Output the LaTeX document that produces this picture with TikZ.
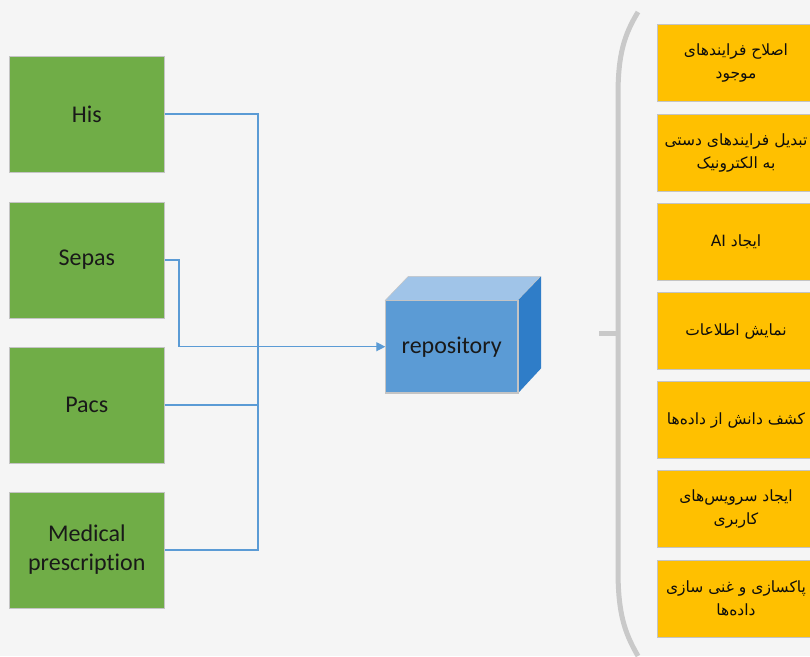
\documentclass[tikz,border=0pt]{standalone}
\usepackage{fontspec}
\setmainfont[Ligatures=NoCommon]{Carlito}
\newfontfamily\arabicfont[Script=Arabic]{DejaVu Sans}
\TeXXeTstate=1
\usetikzlibrary{arrows.meta}
\definecolor{bgc}{HTML}{F5F5F5}
\definecolor{greenc}{HTML}{70AD47}
\definecolor{orangec}{HTML}{FFC000}
\definecolor{bluec}{HTML}{5B9BD5}
\definecolor{bluetop}{HTML}{A0C4E8}
\definecolor{blueside}{HTML}{2F7DC8}
\definecolor{edgec}{HTML}{C4C4C4}
\definecolor{bracec}{HTML}{C9C9C9}
\tikzset{
  srcbox/.style={draw=edgec, line width=0.8pt, fill=greenc, minimum width=155pt, minimum height=116pt,
    inner sep=0pt, align=center, font=\fontsize{24}{29}\selectfont, text=black!90},
  goalbox/.style={draw=edgec, line width=0.8pt, fill=orangec, minimum width=158pt, minimum height=77pt,
    inner sep=0pt, align=center, font=\arabicfont\fontsize{15.5}{23}\selectfont, text=black!95},
  link/.style={draw=bluec, line width=1.2pt},
  bracestyle/.style={draw=bracec, line width=5pt}
}
\begin{document}
\begin{tikzpicture}[x=1pt,y=-1pt]
\useasboundingbox (0,0) rectangle (810,656);
\fill[bgc] (0,0) rectangle (810,656);

% source boxes
\node[srcbox] (his) at (86.8,114) {His};
\node[srcbox] (sepas) at (86.8,260) {\raisebox{-2pt}{Sepas}};
\node[srcbox] (pacs) at (86.8,405) {Pacs};
\node[srcbox] (med) at (86.8,550) {\raisebox{-3pt}{\begin{tabular}{@{}c@{}}Medical\\prescription\end{tabular}}};

% repository cube
\node[draw=edgec, line width=0.8pt, fill=bluec, minimum width=132pt, minimum height=92pt, inner sep=0pt,
  font=\fontsize{24}{29}\selectfont, text=black!90] (repo) at (451.7,346.7) {\raisebox{-2pt}{repository}};
\fill[bluetop, draw=edgec, line width=0.5pt] (repo.north west) -- ++(23,-24) -- ++(132,0) -- (repo.north east) -- cycle;
\fill[blueside] (repo.north east) -- ++(23,-24) -- ++(0,92) -- (repo.south east) -- cycle;
\draw[edgec, line width=0.8pt] (repo.north west) rectangle (repo.south east);

% connectors
\coordinate (bus) at (258,114);
\coordinate (busend) at (258,550);
\coordinate (sb) at (179,260);
\coordinate (sc) at (179,346.7);
\draw[link] (his.east) -- (bus) -- (busend) -- (med.east);
\draw[link] (pacs.east) -- (pacs.east -| bus);
\draw[link, -{Triangle[length=9pt,width=9pt]}] (sepas.east) -- (sb) -- (sc) -- (repo.west);

% brace
\draw[bracestyle] (638,12) .. controls (624,35) and (618,55) .. (618,95) -- (618,570) .. controls (618,612) and (624,632) .. (638,656);
\draw[bracestyle] (599,333) -- (618,333);

% goal boxes
\node[goalbox] (g1) at (736,63.3) {\beginR اصلاح فرایندهای\endR\\\beginR موجود\endR};
\node[goalbox] (g2) at (736,153) {\beginR تبدیل فرایندهای دستی\endR\\\beginR به الکترونیک\endR};
\node[goalbox] (g3) at (736,242) {\beginR ایجاد \beginL{}AI\endL\endR};
\node[goalbox] (g4) at (736,331.3) {\beginR نمایش اطلاعات\endR};
\node[goalbox] (g5) at (736,420.3) {\beginR کشف دانش از داده‌ها\endR};
\node[goalbox] (g6) at (736,509.3) {\beginR ایجاد سرویس‌های\endR\\\beginR کاربری\endR};
\node[goalbox] (g7) at (736,598.8) {\beginR پاکسازی و غنی سازی\endR\\\beginR داده‌ها\endR};
\end{tikzpicture}
\end{document}
